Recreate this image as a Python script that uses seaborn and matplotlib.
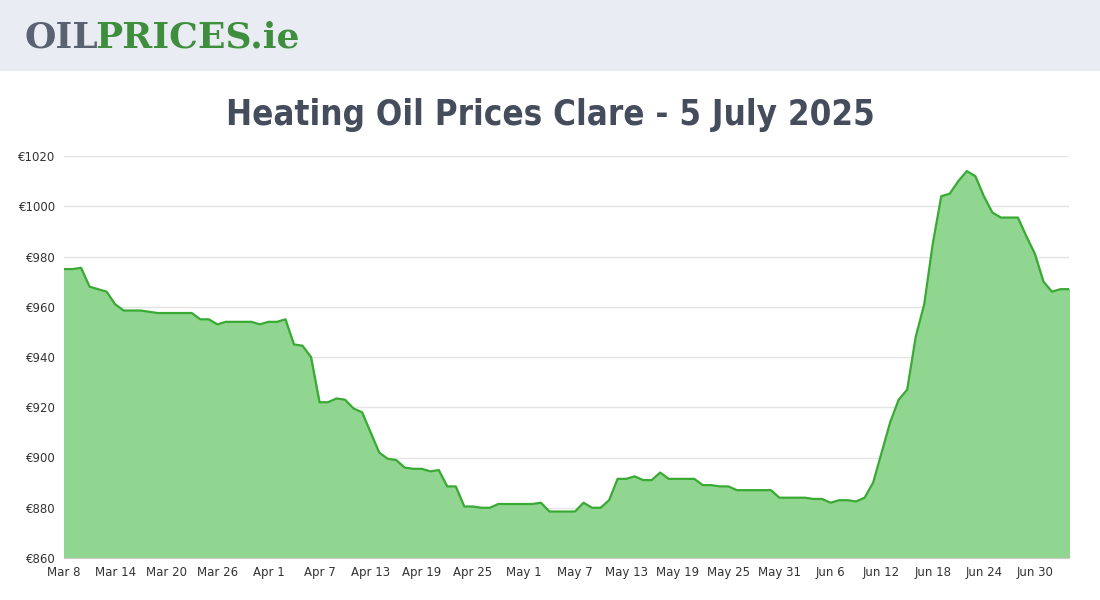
import matplotlib
matplotlib.use("Agg")
import matplotlib.pyplot as plt
from matplotlib.patches import Rectangle
import seaborn as sns
import pandas as pd

start_date = "2025-03-08"
prices = [975,975,975.5,968,967,966,961,958.5,958.5,958.5,958,957.5,957.5,957.5,957.5,957.5,
          955,955,953,954,954,954,954,953,954,954,955,945,944.5,940,922,922,923.5,923,919.5,918,
          910,902,899.5,899,896,895.5,895.5,894.5,895,888.5,888.5,880.5,880.5,880,880,881.5,881.5,
          881.5,881.5,881.5,882,878.5,878.5,878.5,878.5,882,880,880,883,891.5,891.5,892.5,891,891,
          894,891.5,891.5,891.5,891.5,889,889,888.5,888.5,887,887,887,887,887,884,884,884,884,
          883.5,883.5,882,883,883,882.5,884,890,902,914,923,927,948,961,985,1004,1005,1010,1014,
          1012,1004,997.5,995.5,995.5,995.5,988,981,970,966,967,967]
dates = pd.date_range(start_date, periods=len(prices), freq="D")
df = pd.DataFrame({"date": dates, "price": prices})
yticks = list(range(860, 1021, 20))

fig = plt.figure(figsize=(11, 6), dpi=100)
fig.patches.append(Rectangle((0, 530/600), 1, 70/600, transform=fig.transFigure,
                             color="#e9ecf3", zorder=0))
fig.text(0.022, 0.937, "OIL", fontsize=26, fontweight="bold", color="#5a6170",
         family="DejaVu Serif", va="center")
fig.text(0.087, 0.937, "PRICES.ie", fontsize=26, fontweight="bold", color="#3e8e3e",
         family="DejaVu Serif", va="center")
fig.text(0.5, 0.808, "Heating Oil Prices Clare - 5 July 2025", ha="center", va="center",
         fontsize=25, color="#454d5c", family="DejaVu Sans", fontstretch="condensed",
         fontweight="bold")

ax = fig.add_axes([64/1100, 42/600, (1069-64)/1100, (558-156)/600])
ax.fill_between(df["date"], df["price"], 860, color="#90d590", zorder=1)
sns.lineplot(data=df, x="date", y="price", ax=ax, color="#3aaa35", linewidth=1.6, zorder=2)
ax.set_xlim(dates[0], dates[-1])
ax.set_ylim(860, 1020)
ax.set_yticks(yticks)
ax.set_yticklabels([f"€{v}" for v in yticks], fontsize=8.5, color="#333")
ticks = pd.date_range(start_date, dates[-1], freq="6D")
ax.set_xticks(ticks)
ax.set_xticklabels([f"{d:%b} {d.day}" for d in ticks], fontsize=8.5, color="#333")
ax.grid(axis="y", color="#e3e3e3", linewidth=1)
ax.set_axisbelow(True)
ax.set_xlabel(""); ax.set_ylabel("")
for s in ["top", "right", "left"]:
    ax.spines[s].set_visible(False)
ax.spines["bottom"].set_color("#ccc")
ax.tick_params(length=0, pad=6)
fig.savefig("out.png", dpi=100)
